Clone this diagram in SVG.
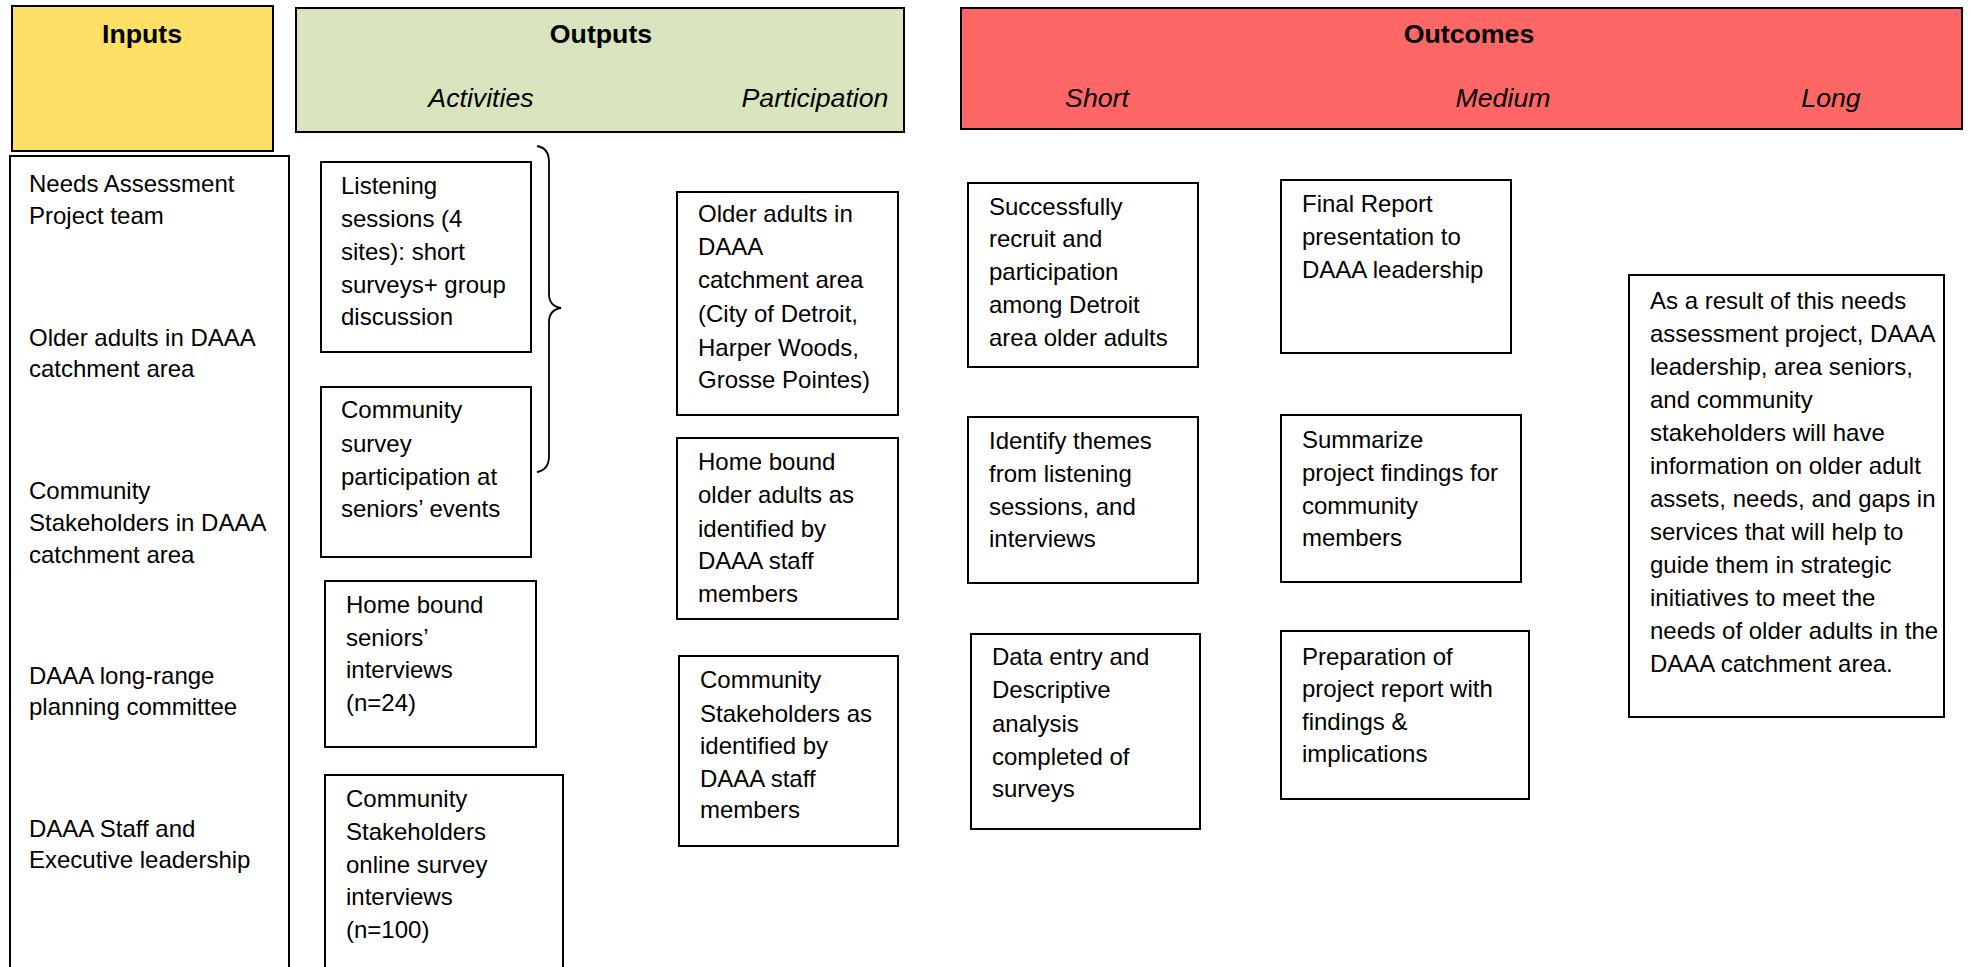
<svg xmlns="http://www.w3.org/2000/svg" width="1969" height="967" viewBox="0 0 1969 967">
<style>
.hdr{stroke:#000;stroke-width:2}
.box{fill:#fff;stroke:#000;stroke-width:2}
.t{font-family:"Liberation Sans",Arial,sans-serif;font-size:24px;fill:#000}
.h{font-family:"Liberation Sans",Arial,sans-serif;font-size:26.7px;font-weight:bold;fill:#000;text-anchor:middle}
.i{font-family:"Liberation Sans",Arial,sans-serif;font-size:26.7px;font-style:italic;fill:#000;text-anchor:middle}
</style>
<rect width="1969" height="967" fill="#fff"/>
<g id="inputs-header">
<rect class="hdr" x="12" y="6" width="261" height="145" fill="#FFE066"/>
<text class="h" x="142" y="43">Inputs</text>
</g>
<g id="outputs-header">
<rect class="hdr" x="296" y="8" width="608" height="124" fill="#D7E4BD"/>
<text class="h" x="601" y="43">Outputs</text>
<text class="i" x="481" y="107">Activities</text>
<text class="i" x="815" y="107">Participation</text>
</g>
<g id="outcomes-header">
<rect class="hdr" x="961" y="8" width="1001" height="121" fill="#FF6666"/>
<text class="h" x="1469" y="43">Outcomes</text>
<text class="i" x="1097" y="107">Short</text>
<text class="i" x="1503" y="107">Medium</text>
<text class="i" x="1831" y="107">Long</text>
</g>
<g id="inputs">
<rect class="box" x="10" y="156" width="279" height="830"/>
<text class="t"><tspan x="29" y="192">Needs Assessment</tspan><tspan x="29" y="224">Project team</tspan>
<tspan x="29" y="346">Older adults in DAAA</tspan><tspan x="29" y="377">catchment area</tspan>
<tspan x="29" y="499">Community</tspan><tspan x="29" y="531">Stakeholders in DAAA</tspan><tspan x="29" y="563">catchment area</tspan>
<tspan x="29" y="684">DAAA long-range</tspan><tspan x="29" y="715">planning committee</tspan>
<tspan x="29" y="837">DAAA Staff and</tspan><tspan x="29" y="868">Executive leadership</tspan></text>
</g>
<g id="act-listening">
<rect class="box" x="321" y="162" width="210" height="190"/>
<text class="t"><tspan x="341" y="194">Listening</tspan><tspan x="341" y="227">sessions (4</tspan><tspan x="341" y="260">sites): short</tspan><tspan x="341" y="293">surveys+ group</tspan><tspan x="341" y="325">discussion</tspan></text>
</g>
<g id="act-community-survey">
<rect class="box" x="321" y="387" width="210" height="170"/>
<text class="t"><tspan x="341" y="418">Community</tspan><tspan x="341" y="452">survey</tspan><tspan x="341" y="485">participation at</tspan><tspan x="341" y="517">seniors’ events</tspan></text>
</g>
<g id="act-homebound">
<rect class="box" x="325" y="581" width="211" height="166"/>
<text class="t"><tspan x="346" y="613">Home bound</tspan><tspan x="346" y="646">seniors’</tspan><tspan x="346" y="678">interviews</tspan><tspan x="346" y="711">(n=24)</tspan></text>
</g>
<g id="act-online">
<rect class="box" x="325" y="775" width="238" height="220"/>
<text class="t"><tspan x="346" y="807">Community</tspan><tspan x="346" y="840">Stakeholders</tspan><tspan x="346" y="873">online survey</tspan><tspan x="346" y="905">interviews</tspan><tspan x="346" y="938">(n=100)</tspan></text>
</g>
<g id="connectors">
<path d="M537,146 Q549,148 549,162 L549,294 Q549,306 561,308 Q549,310 549,322 L549,456 Q549,470 537,472" fill="none" stroke="#000" stroke-width="1.8"/>
</g>
<g id="part-older">
<rect class="box" x="677" y="192" width="221" height="223"/>
<text class="t"><tspan x="698" y="222">Older adults in</tspan><tspan x="698" y="255">DAAA</tspan><tspan x="698" y="288">catchment area</tspan><tspan x="698" y="322">(City of Detroit,</tspan><tspan x="698" y="356">Harper Woods,</tspan><tspan x="698" y="388">Grosse Pointes)</tspan></text>
</g>
<g id="part-homebound">
<rect class="box" x="677" y="438" width="221" height="181"/>
<text class="t"><tspan x="698" y="470">Home bound</tspan><tspan x="698" y="503">older adults as</tspan><tspan x="698" y="537">identified by</tspan><tspan x="698" y="569">DAAA staff</tspan><tspan x="698" y="602">members</tspan></text>
</g>
<g id="part-stakeholders">
<rect class="box" x="679" y="656" width="219" height="190"/>
<text class="t"><tspan x="700" y="688">Community</tspan><tspan x="700" y="722">Stakeholders as</tspan><tspan x="700" y="754">identified by</tspan><tspan x="700" y="787">DAAA staff</tspan><tspan x="700" y="818">members</tspan></text>
</g>
<g id="short-recruit">
<rect class="box" x="968" y="183" width="230" height="184"/>
<text class="t"><tspan x="989" y="215">Successfully</tspan><tspan x="989" y="247">recruit and</tspan><tspan x="989" y="280">participation</tspan><tspan x="989" y="313">among Detroit</tspan><tspan x="989" y="346">area older adults</tspan></text>
</g>
<g id="short-themes">
<rect class="box" x="968" y="417" width="230" height="166"/>
<text class="t"><tspan x="989" y="449">Identify themes</tspan><tspan x="989" y="482">from listening</tspan><tspan x="989" y="515">sessions, and</tspan><tspan x="989" y="547">interviews</tspan></text>
</g>
<g id="short-data">
<rect class="box" x="971" y="634" width="229" height="195"/>
<text class="t"><tspan x="992" y="665">Data entry and</tspan><tspan x="992" y="698">Descriptive</tspan><tspan x="992" y="732">analysis</tspan><tspan x="992" y="765">completed of</tspan><tspan x="992" y="797">surveys</tspan></text>
</g>
<g id="medium-final">
<rect class="box" x="1281" y="180" width="230" height="173"/>
<text class="t"><tspan x="1302" y="212">Final Report</tspan><tspan x="1302" y="245">presentation to</tspan><tspan x="1302" y="278">DAAA leadership</tspan></text>
</g>
<g id="medium-summarize">
<rect class="box" x="1281" y="415" width="240" height="167"/>
<text class="t"><tspan x="1302" y="448">Summarize</tspan><tspan x="1302" y="481">project findings for</tspan><tspan x="1302" y="514">community</tspan><tspan x="1302" y="546">members</tspan></text>
</g>
<g id="medium-report">
<rect class="box" x="1281" y="631" width="248" height="168"/>
<text class="t"><tspan x="1302" y="665">Preparation of</tspan><tspan x="1302" y="697">project report with</tspan><tspan x="1302" y="730">findings &amp;</tspan><tspan x="1302" y="762">implications</tspan></text>
</g>
<g id="long">
<rect class="box" x="1629" y="275" width="315" height="442"/>
<text class="t"><tspan x="1650" y="309">As a result of this needs</tspan><tspan x="1650" y="342">assessment project, DAAA</tspan><tspan x="1650" y="375">leadership, area seniors,</tspan><tspan x="1650" y="408">and community</tspan><tspan x="1650" y="441">stakeholders will have</tspan><tspan x="1650" y="474">information on older adult</tspan><tspan x="1650" y="507">assets, needs, and gaps in</tspan><tspan x="1650" y="540">services that will help to</tspan><tspan x="1650" y="573">guide them in strategic</tspan><tspan x="1650" y="606">initiatives to meet the</tspan><tspan x="1650" y="639">needs of older adults in the</tspan><tspan x="1650" y="672">DAAA catchment area.</tspan></text>
</g>
</svg>
